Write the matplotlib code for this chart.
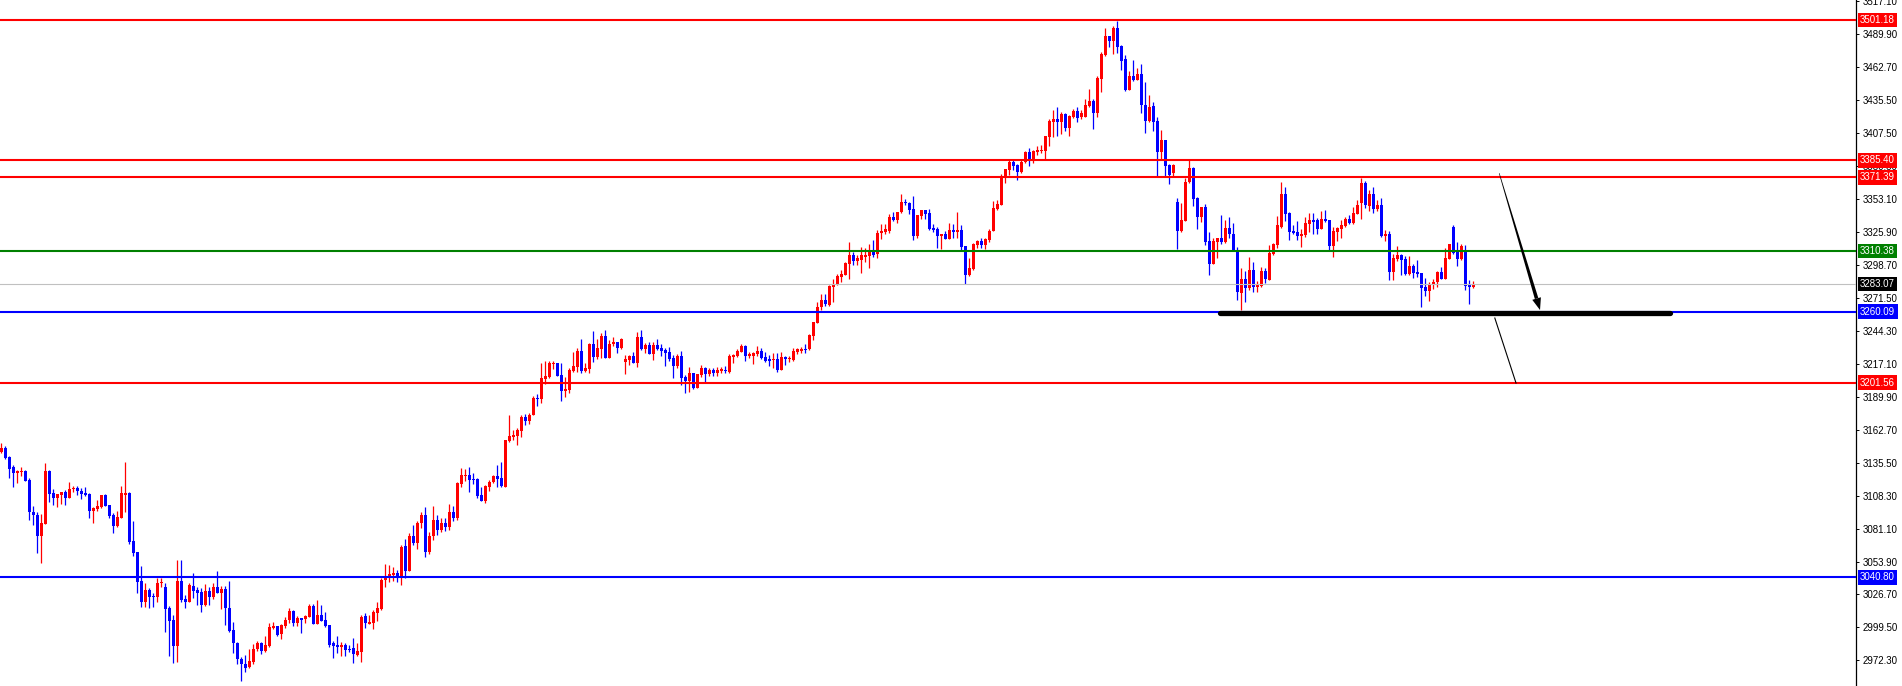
import numpy as np
import matplotlib
matplotlib.use("Agg")
import matplotlib.pyplot as plt
from matplotlib import transforms
from matplotlib.patches import Polygon

# candle data, oldest first
opens = [
    3144.6, 3147.4, 3140.5, 3132.2, 3127.3, 3128.1, 3128.9, 3121.2, 3095.1, 3092.3,
    3075.3, 3085.2, 3128.9, 3110.2, 3106.6, 3109.1, 3111.3, 3106.6, 3114.1, 3114.9,
    3112.4, 3110.5, 3109.7, 3095.9, 3097.6, 3099.2, 3108.8, 3100.6, 3092.3, 3083.5,
    3090.1, 3108.8, 3110.5, 3070.8, 3061.5, 3037.8, 3020.7, 3030.4, 3025.7, 3024.9,
    3035.9, 3033.1, 3015.5, 3005.6, 2984.4, 3037.8, 3022.9, 3020.7, 3033.7, 3030.4,
    3029.0, 3018.0, 3029.6, 3024.9, 3032.6, 3027.6, 3030.9, 3015.2, 2997.3, 2986.9,
    2973.1, 2969.0, 2967.0, 2971.2, 2981.4, 2986.3, 2980.3, 2984.4, 2999.3, 3000.6,
    2993.8, 3000.6, 3005.6, 3013.0, 3002.8, 3007.0, 3006.1, 3008.4, 3017.1, 3002.0,
    3009.7, 3005.6, 3001.5, 2986.3, 2984.9, 2983.0, 2984.9, 2981.4, 2982.2, 2976.7,
    2979.4, 3008.9, 3002.0, 3003.4, 3011.7, 3014.7, 3038.6, 3040.0, 3042.8, 3044.1,
    3041.9, 3066.7, 3046.3, 3075.0, 3069.5, 3085.4, 3092.0, 3062.0, 3075.0, 3088.0,
    3080.0, 3086.0, 3082.0, 3095.0, 3090.0, 3117.9, 3124.5, 3125.3, 3122.0, 3122.0,
    3108.8, 3104.2, 3115.7, 3119.3, 3124.5, 3122.6, 3115.7, 3153.7, 3157.0, 3157.6,
    3162.0, 3173.5, 3170.2, 3174.9, 3189.2, 3188.4, 3204.6, 3206.6, 3216.8, 3218.1,
    3207.9, 3195.0, 3195.6, 3211.5, 3214.8, 3227.8, 3211.5, 3212.6, 3233.5, 3223.1,
    3229.7, 3240.1, 3222.3, 3233.3, 3235.5, 3230.0, 3218.9, 3220.3, 3223.7, 3218.2,
    3239.1, 3229.5, 3232.7, 3225.3, 3232.7, 3230.0, 3228.6, 3227.2, 3221.7, 3215.4,
    3223.7, 3206.6, 3203.0, 3209.9, 3197.5, 3208.0, 3213.5, 3208.8, 3212.1, 3209.3,
    3211.6, 3212.1, 3210.7, 3223.1, 3224.0, 3227.2, 3231.9, 3224.0, 3224.0, 3225.1,
    3227.8, 3222.6, 3220.9, 3220.4, 3221.2, 3212.1, 3222.6, 3220.9, 3220.4, 3227.2,
    3227.8, 3229.5, 3229.2, 3240.5, 3251.2, 3263.9, 3269.9, 3265.8, 3280.9, 3282.3,
    3289.2, 3290.5, 3299.6, 3307.1, 3302.4, 3302.9, 3305.7, 3306.2, 3309.8, 3307.9,
    3325.0, 3326.3, 3327.2, 3338.2, 3336.0, 3342.8, 3351.1, 3350.3, 3345.0, 3323.0,
    3339.5, 3344.2, 3341.5, 3329.1, 3328.5, 3323.0, 3324.4, 3320.3, 3327.7, 3326.3,
    3327.7, 3314.5, 3290.5, 3295.5, 3315.3, 3318.9, 3315.3, 3319.4, 3327.1, 3345.0,
    3348.3, 3371.2, 3377.3, 3384.1, 3381.4, 3375.3, 3383.6, 3392.4, 3386.1, 3392.4,
    3393.0, 3393.0, 3404.8, 3417.2, 3419.1, 3417.2, 3423.2, 3412.2, 3421.3, 3426.0,
    3420.8, 3420.8, 3430.4, 3434.2, 3424.6, 3452.4, 3472.2, 3487.9, 3484.1, 3494.3,
    3479.7, 3468.7, 3443.3, 3454.9, 3451.6, 3456.3, 3431.0, 3418.0, 3430.1, 3417.7,
    3392.4, 3402.0, 3381.4, 3374.5, 3350.5, 3327.2, 3335.4, 3367.1, 3379.2, 3353.9,
    3338.2, 3346.4, 3318.9, 3299.6, 3317.5, 3320.8, 3317.5, 3329.1, 3324.1, 3311.2,
    3276.0, 3287.0, 3279.5, 3294.7, 3280.9, 3281.7, 3293.9, 3286.5, 3308.0, 3315.4,
    3330.5, 3357.5, 3342.1, 3327.2, 3326.4, 3322.8, 3323.6, 3332.7, 3336.0, 3336.0,
    3328.6, 3336.6, 3336.0, 3314.6, 3326.4, 3328.3, 3331.3, 3336.9, 3333.3, 3341.0,
    3349.8, 3366.9, 3347.9, 3357.5, 3345.1, 3348.4, 3322.8, 3324.2, 3293.4, 3303.8,
    3307.1, 3303.5, 3291.4, 3298.0, 3292.8, 3292.0, 3281.0, 3277.7, 3282.3, 3284.5,
    3292.8, 3287.3, 3303.8, 3330.0, 3311.2, 3303.8, 3311.2, 3282.9, 3281.0,
]
highs = [
    3151.5, 3149.3, 3141.1, 3133.6, 3129.5, 3132.0, 3129.5, 3122.6, 3099.8, 3094.5,
    3093.1, 3135.5, 3129.5, 3113.8, 3109.7, 3111.3, 3113.0, 3119.6, 3116.3, 3116.3,
    3114.3, 3115.2, 3110.2, 3099.2, 3104.7, 3108.8, 3109.7, 3100.6, 3094.3, 3095.6,
    3116.3, 3136.1, 3111.0, 3087.4, 3061.5, 3050.2, 3036.4, 3032.3, 3027.6, 3040.0,
    3040.0, 3035.9, 3017.2, 3009.7, 3055.2, 3055.2, 3026.2, 3035.9, 3044.7, 3032.6,
    3031.8, 3035.3, 3032.6, 3036.4, 3046.3, 3033.7, 3033.7, 3038.1, 3004.2, 2987.4,
    2975.3, 2976.7, 2981.6, 2985.8, 2988.2, 2987.1, 2992.4, 3002.8, 3004.2, 3000.6,
    3002.3, 3007.8, 3015.8, 3013.9, 3008.9, 3007.0, 3009.7, 3018.8, 3018.8, 3022.1,
    3018.0, 3011.9, 3001.5, 2988.5, 2992.4, 2987.1, 2986.3, 2984.9, 2990.4, 2986.9,
    3009.7, 3011.1, 3009.7, 3013.9, 3020.2, 3040.0, 3051.8, 3051.0, 3049.1, 3046.9,
    3067.5, 3072.2, 3077.2, 3084.0, 3087.6, 3094.8, 3099.0, 3078.0, 3100.0, 3092.0,
    3090.0, 3090.0, 3101.0, 3100.0, 3119.9, 3131.4, 3130.0, 3132.2, 3127.3, 3122.6,
    3115.7, 3117.1, 3121.2, 3125.3, 3133.6, 3135.8, 3154.3, 3174.9, 3162.5, 3163.9,
    3174.9, 3175.7, 3176.3, 3190.6, 3191.9, 3218.1, 3219.8, 3219.5, 3219.5, 3218.1,
    3217.6, 3206.6, 3213.4, 3227.2, 3230.0, 3237.4, 3217.6, 3234.1, 3244.3, 3237.4,
    3242.4, 3245.1, 3236.8, 3239.0, 3235.5, 3238.2, 3224.5, 3224.5, 3227.2, 3243.8,
    3245.1, 3234.7, 3235.5, 3235.5, 3237.4, 3233.6, 3230.0, 3231.4, 3224.5, 3225.3,
    3227.8, 3208.0, 3214.9, 3209.9, 3208.8, 3216.2, 3214.9, 3213.5, 3213.5, 3214.9,
    3214.3, 3215.4, 3225.3, 3225.3, 3229.2, 3233.3, 3232.7, 3227.2, 3227.2, 3231.9,
    3230.0, 3227.2, 3224.5, 3225.9, 3226.4, 3227.2, 3223.7, 3223.7, 3230.0, 3230.0,
    3231.4, 3233.6, 3241.8, 3252.0, 3268.5, 3274.9, 3274.9, 3282.3, 3287.0, 3291.4,
    3294.7, 3301.0, 3317.5, 3309.8, 3307.1, 3313.4, 3312.6, 3315.9, 3319.4, 3327.7,
    3332.7, 3332.7, 3340.9, 3342.3, 3342.8, 3357.4, 3353.0, 3351.1, 3355.8, 3340.1,
    3344.2, 3344.2, 3345.0, 3332.7, 3329.9, 3324.4, 3326.9, 3333.2, 3332.4, 3342.8,
    3331.8, 3314.5, 3304.3, 3316.7, 3319.4, 3320.8, 3320.8, 3328.2, 3351.9, 3352.5,
    3373.9, 3378.1, 3385.5, 3385.5, 3382.2, 3385.5, 3393.2, 3395.7, 3393.8, 3397.1,
    3397.9, 3405.3, 3419.1, 3426.8, 3429.6, 3425.4, 3424.1, 3422.7, 3427.4, 3429.6,
    3426.8, 3435.9, 3443.9, 3435.6, 3454.9, 3475.0, 3494.3, 3487.9, 3496.2, 3500.3,
    3480.5, 3472.2, 3459.0, 3468.1, 3461.2, 3464.8, 3450.2, 3439.2, 3433.7, 3421.3,
    3410.3, 3402.0, 3382.2, 3382.2, 3353.9, 3350.3, 3370.4, 3385.5, 3380.0, 3355.2,
    3346.4, 3349.2, 3326.3, 3320.8, 3320.8, 3340.1, 3336.0, 3338.7, 3333.2, 3313.4,
    3296.6, 3293.8, 3305.1, 3301.5, 3285.9, 3296.9, 3296.7, 3315.4, 3316.8, 3339.3,
    3367.1, 3363.6, 3342.9, 3331.9, 3335.5, 3328.3, 3338.2, 3341.5, 3342.1, 3338.0,
    3343.5, 3344.3, 3336.0, 3330.0, 3330.0, 3336.0, 3338.2, 3340.2, 3347.0, 3352.5,
    3371.0, 3368.5, 3360.8, 3363.6, 3352.5, 3354.5, 3327.8, 3327.2, 3307.7, 3314.6,
    3307.9, 3306.3, 3306.3, 3299.7, 3303.0, 3292.5, 3287.8, 3285.1, 3287.3, 3294.2,
    3296.9, 3312.6, 3315.9, 3331.9, 3317.9, 3315.9, 3315.4, 3286.5, 3285.9,
]
lows = [
    3143.3, 3138.3, 3123.2, 3115.7, 3119.0, 3124.5, 3120.7, 3088.2, 3084.1, 3061.2,
    3053.0, 3085.2, 3103.3, 3100.6, 3099.2, 3101.4, 3100.6, 3106.6, 3111.6, 3108.8,
    3105.3, 3108.0, 3090.1, 3086.0, 3095.6, 3098.4, 3100.0, 3089.6, 3077.7, 3082.7,
    3090.1, 3095.1, 3068.4, 3058.7, 3027.6, 3016.1, 3016.6, 3015.2, 3016.6, 3020.7,
    3033.1, 2996.0, 2976.1, 2969.8, 2971.2, 3020.7, 3015.8, 3020.7, 3024.0, 3018.0,
    3012.5, 3017.2, 3018.0, 3022.7, 3027.6, 3014.4, 3001.5, 2996.0, 2978.6, 2969.0,
    2955.5, 2962.9, 2966.2, 2969.0, 2980.3, 2977.5, 2979.4, 2983.0, 2997.9, 2992.4,
    2989.9, 2998.7, 3003.4, 3000.6, 3000.6, 2994.6, 3002.8, 3007.8, 3002.0, 3002.0,
    3005.0, 3000.1, 2983.6, 2973.9, 2978.6, 2976.1, 2976.1, 2979.4, 2969.8, 2976.1,
    2971.2, 2999.3, 3002.0, 2998.2, 3004.8, 3013.9, 3033.1, 3037.2, 3038.1, 3037.2,
    3034.5, 3040.0, 3046.3, 3067.5, 3064.2, 3081.8, 3058.0, 3060.0, 3072.0, 3076.0,
    3078.0, 3079.0, 3080.0, 3087.0, 3088.0, 3115.2, 3120.4, 3111.6, 3117.9, 3106.1,
    3104.2, 3102.5, 3112.1, 3118.5, 3115.7, 3115.7, 3115.7, 3152.9, 3154.3, 3150.1,
    3157.0, 3166.6, 3167.5, 3174.9, 3182.6, 3184.5, 3200.5, 3205.7, 3212.9, 3207.4,
    3186.7, 3190.0, 3193.3, 3210.7, 3210.7, 3209.3, 3210.7, 3209.9, 3219.0, 3220.9,
    3221.7, 3221.7, 3222.3, 3232.2, 3226.4, 3229.1, 3208.8, 3216.2, 3217.6, 3214.9,
    3228.6, 3226.4, 3225.3, 3220.4, 3228.6, 3223.9, 3215.4, 3219.8, 3205.8, 3213.5,
    3199.7, 3192.8, 3194.2, 3196.1, 3197.5, 3206.6, 3202.5, 3207.1, 3207.1, 3207.1,
    3209.9, 3209.9, 3209.9, 3218.2, 3222.6, 3226.7, 3219.8, 3221.7, 3216.8, 3224.0,
    3221.2, 3218.4, 3215.4, 3213.5, 3210.7, 3212.1, 3216.2, 3219.0, 3219.8, 3225.3,
    3225.9, 3225.9, 3228.6, 3236.9, 3251.2, 3261.7, 3265.0, 3265.0, 3268.5, 3282.3,
    3285.0, 3290.5, 3287.2, 3298.8, 3298.8, 3292.5, 3301.5, 3296.0, 3305.7, 3304.3,
    3320.0, 3324.4, 3325.5, 3335.1, 3333.8, 3341.5, 3348.3, 3340.9, 3319.4, 3320.8,
    3336.5, 3336.8, 3327.7, 3326.3, 3312.6, 3312.0, 3320.0, 3320.3, 3320.8, 3320.8,
    3311.2, 3283.1, 3290.0, 3294.7, 3313.1, 3312.6, 3311.7, 3317.5, 3327.1, 3344.2,
    3348.3, 3366.8, 3373.1, 3377.3, 3369.0, 3375.1, 3382.8, 3380.8, 3383.3, 3389.6,
    3391.0, 3386.1, 3397.1, 3404.8, 3405.3, 3407.0, 3409.7, 3405.3, 3419.9, 3417.2,
    3419.1, 3420.8, 3429.0, 3411.1, 3421.3, 3441.9, 3471.4, 3479.1, 3473.1, 3474.2,
    3459.8, 3442.5, 3443.3, 3450.8, 3451.6, 3424.1, 3408.1, 3417.2, 3409.7, 3372.3,
    3386.1, 3372.3, 3365.7, 3372.3, 3312.0, 3326.3, 3335.4, 3366.8, 3347.8, 3328.5,
    3334.0, 3315.3, 3290.5, 3299.6, 3304.3, 3316.1, 3316.7, 3321.4, 3311.2, 3269.9,
    3261.6, 3268.5, 3278.1, 3276.8, 3276.8, 3280.9, 3283.7, 3286.5, 3307.1, 3312.6,
    3329.7, 3335.5, 3319.5, 3324.5, 3319.5, 3314.0, 3322.3, 3326.4, 3324.5, 3324.5,
    3328.6, 3334.6, 3311.2, 3305.7, 3319.0, 3320.9, 3330.0, 3332.7, 3332.7, 3341.0,
    3336.9, 3346.2, 3343.7, 3342.1, 3343.7, 3322.3, 3319.0, 3286.5, 3286.5, 3302.4,
    3290.6, 3290.6, 3290.6, 3287.8, 3288.7, 3264.4, 3273.3, 3269.4, 3279.0, 3281.0,
    3287.0, 3287.0, 3303.8, 3307.9, 3298.0, 3303.0, 3278.2, 3266.7, 3279.6,
]
closes = [
    3147.4, 3139.7, 3130.3, 3127.3, 3128.9, 3128.7, 3120.7, 3095.1, 3092.3, 3075.3,
    3085.4, 3128.7, 3109.9, 3106.6, 3109.7, 3111.3, 3106.6, 3113.5, 3114.9, 3112.4,
    3109.7, 3108.8, 3095.9, 3098.4, 3099.8, 3108.8, 3100.0, 3091.8, 3083.5, 3090.4,
    3110.2, 3110.2, 3069.7, 3061.2, 3037.3, 3020.7, 3030.4, 3024.9, 3024.9, 3036.2,
    3037.3, 3015.0, 3005.0, 2984.4, 3037.8, 3022.1, 3020.7, 3034.5, 3029.6, 3028.2,
    3018.0, 3029.6, 3024.9, 3033.1, 3027.6, 3030.9, 3015.2, 2996.8, 2986.3, 2973.1,
    2969.0, 2966.2, 2971.7, 2981.4, 2986.3, 2980.3, 2984.9, 2999.8, 3000.6, 2993.2,
    3001.5, 3005.6, 3013.0, 3002.8, 3007.5, 3005.6, 3008.9, 3017.1, 3002.0, 3009.7,
    3005.0, 3000.6, 2984.9, 2984.4, 2983.0, 2984.9, 2980.8, 2980.8, 2977.5, 2980.0,
    3007.8, 3002.8, 3003.7, 3012.5, 3015.2, 3038.6, 3040.0, 3043.6, 3044.1, 3041.9,
    3065.6, 3046.3, 3075.0, 3068.9, 3086.0, 3092.3, 3062.0, 3075.0, 3088.0, 3080.0,
    3086.0, 3082.0, 3095.0, 3090.0, 3119.0, 3125.3, 3125.3, 3121.2, 3121.2, 3108.0,
    3104.2, 3116.3, 3119.8, 3124.5, 3122.0, 3116.3, 3154.3, 3157.6, 3158.4, 3162.5,
    3173.5, 3170.2, 3174.9, 3189.2, 3188.4, 3205.7, 3207.1, 3217.6, 3218.1, 3207.4,
    3195.0, 3196.4, 3212.1, 3215.4, 3227.8, 3211.5, 3214.0, 3233.5, 3223.1, 3230.0,
    3240.1, 3222.3, 3233.5, 3235.5, 3230.5, 3237.4, 3221.1, 3223.6, 3218.2, 3239.1,
    3229.5, 3232.7, 3225.3, 3232.7, 3229.5, 3227.8, 3226.4, 3221.2, 3215.4, 3223.7,
    3205.8, 3203.0, 3209.3, 3197.5, 3208.8, 3213.5, 3208.8, 3212.1, 3209.9, 3212.1,
    3212.7, 3211.6, 3223.7, 3224.5, 3227.8, 3231.9, 3224.0, 3225.3, 3225.9, 3227.8,
    3221.7, 3219.8, 3219.5, 3221.2, 3212.1, 3222.6, 3220.9, 3221.7, 3227.8, 3229.2,
    3229.2, 3228.6, 3241.0, 3251.5, 3264.4, 3269.9, 3266.6, 3281.5, 3283.1, 3289.7,
    3291.4, 3300.2, 3307.1, 3302.4, 3304.3, 3307.1, 3307.1, 3310.6, 3307.1, 3325.5,
    3327.2, 3328.3, 3338.2, 3336.0, 3342.8, 3351.1, 3349.7, 3344.2, 3323.0, 3340.1,
    3344.2, 3340.9, 3328.5, 3327.7, 3323.0, 3324.4, 3320.3, 3327.7, 3326.3, 3327.7,
    3313.9, 3290.5, 3296.0, 3316.1, 3318.9, 3315.3, 3320.0, 3327.1, 3345.6, 3348.9,
    3371.8, 3378.1, 3384.1, 3380.6, 3375.9, 3384.1, 3392.4, 3386.3, 3392.9, 3393.8,
    3393.8, 3405.3, 3417.7, 3419.4, 3417.2, 3423.2, 3412.2, 3421.8, 3426.0, 3420.5,
    3424.1, 3431.0, 3434.2, 3424.6, 3453.0, 3473.1, 3487.9, 3484.1, 3494.3, 3479.1,
    3467.6, 3443.3, 3454.9, 3451.6, 3456.3, 3431.0, 3418.0, 3429.6, 3417.2, 3392.4,
    3402.0, 3380.8, 3373.1, 3381.4, 3327.2, 3336.0, 3367.1, 3378.6, 3353.3, 3338.2,
    3346.4, 3318.1, 3299.6, 3318.9, 3320.8, 3317.5, 3329.1, 3324.1, 3311.2, 3276.8,
    3287.0, 3279.5, 3294.7, 3280.9, 3282.3, 3293.8, 3287.0, 3308.5, 3315.9, 3331.9,
    3357.5, 3341.0, 3326.4, 3325.6, 3322.8, 3324.5, 3333.3, 3336.0, 3334.6, 3328.6,
    3336.6, 3335.2, 3314.6, 3327.2, 3329.1, 3331.9, 3336.9, 3333.3, 3341.5, 3348.4,
    3366.9, 3348.4, 3357.5, 3345.1, 3348.4, 3322.8, 3324.2, 3293.4, 3304.9, 3307.1,
    3303.0, 3291.4, 3298.0, 3292.5, 3291.4, 3280.1, 3277.7, 3283.2, 3285.1, 3292.8,
    3287.3, 3304.4, 3315.9, 3308.5, 3303.8, 3314.6, 3281.8, 3281.0, 3283.2,
]

# horizontal levels and their colours
levels = [3501.18, 3385.40, 3371.39, 3310.38, 3283.07, 3260.09, 3201.56, 3040.80]
level_colors = ["#ff0000", "#ff0000", "#ff0000", "#008000", "#c0c0c0",
                "#0000ff", "#ff0000", "#0000ff"]
label_colors = ["#ff0000", "#ff0000", "#ff0000", "#008000", "#000000",
                "#0000ff", "#ff0000", "#0000ff"]

tick_vals = [3517.10, 3489.90, 3462.70, 3435.50, 3407.50, 3380.30, 3353.10,
             3325.90, 3298.70, 3271.50, 3244.30, 3217.10, 3189.90, 3162.70,
             3135.50, 3108.30, 3081.10, 3053.90, 3026.70, 2999.50, 2972.30]

# drawn objects: support line and two arrows (bar index, price)
support_line = [(304.7, 3259.4), (417.2, 3259.4)]
arrow_main = [(374.5, 3374.6), (384.7, 3261.6)]
arrow_thin = [(373.4, 3255.0), (378.7, 3201.3)]

W, H = 1902, 686
fig = plt.figure(figsize=(W / 100, H / 100), dpi=100)
ax = fig.add_axes([0, 0, 1856 / W, 1])

o = np.array(opens)
h = np.array(highs)
l = np.array(lows)
c = np.array(closes)
x = np.arange(len(o))
cols = np.where(c >= o, "#ff0000", "#0000ff")

ax.vlines(x, l, h, colors=cols, lw=0.9, zorder=2)
body = np.maximum(np.abs(c - o), 0.7)
ax.bar(x, body, bottom=np.minimum(o, c), width=0.72, color=cols,
       linewidth=0, zorder=2)

ax.set_xlim(-0.33, 463.7)
ax.set_ylim(3517.7 - 0.826 * H, 3517.7)

for lv, lc in zip(levels, level_colors):
    lw = 0.8 if lc == "#c0c0c0" else 1.5
    ax.axhline(lv, color=lc, lw=lw, zorder=3)

(sx0, sy0), (sx1, sy1) = support_line
ax.plot([sx0, sx1], [sy0, sy1], color="black", lw=3.8,
        solid_capstyle="round", zorder=4)

# tapered main arrow built in pixel space
p0 = ax.transData.transform(arrow_main[0])
p1 = ax.transData.transform(arrow_main[1])
d = (p1 - p0) / np.hypot(*(p1 - p0))
nrm = np.array([-d[1], d[0]])
base = p1 - d * 12
shaft = [p0 + nrm * 0.3, base + nrm * 1.8, base - nrm * 1.8, p0 - nrm * 0.3]
head = [p1, base + nrm * 4.5, base - nrm * 4.5]
ident = transforms.IdentityTransform()
ax.add_patch(Polygon(shaft, closed=True, color="black", lw=0,
                     transform=ident, zorder=5))
ax.add_patch(Polygon(head, closed=True, color="black", lw=0,
                     transform=ident, zorder=5))

ax.plot([arrow_thin[0][0], arrow_thin[1][0]],
        [arrow_thin[0][1], arrow_thin[1][1]], color="black", lw=0.8, zorder=5)

# axis styling
for side in ["left", "top", "bottom"]:
    ax.spines[side].set_visible(False)
ax.spines["right"].set_linewidth(0.9)
ax.set_xticks([])
ax.yaxis.tick_right()
ax.set_yticks(tick_vals)
ax.set_yticklabels([f"{v:.2f}" for v in tick_vals])
ax.tick_params(axis="y", direction="out", length=2.5, width=0.7, pad=2,
               labelsize=7)
for t in ax.get_yticklabels():
    t.set_fontfamily("Liberation Sans")

tr = transforms.blended_transform_factory(ax.transAxes, ax.transData)
for lv, bc in zip(levels, label_colors):
    ax.text(1 + 4 / 1856, lv, f"{lv:.2f}", transform=tr, ha="left",
            va="center", fontsize=7, family="Liberation Sans", color="white",
            clip_on=False, zorder=10,
            bbox=dict(boxstyle="square,pad=0.25", fc=bc, ec="none"))

fig.savefig("out.png", dpi=100, facecolor="white")
